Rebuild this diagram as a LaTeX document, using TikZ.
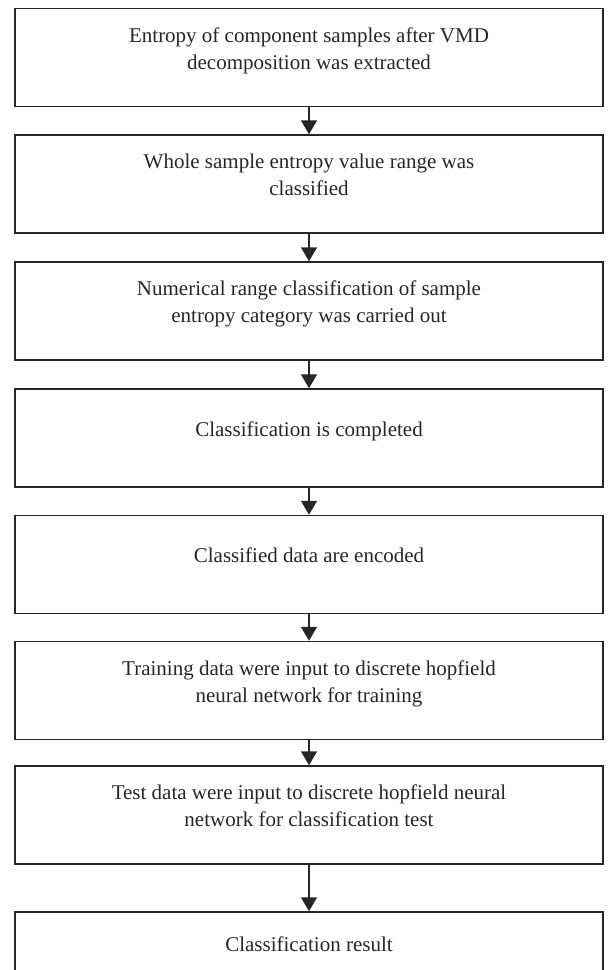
\documentclass[tikz,border=0pt]{standalone}
\usepackage{fontspec}
\setmainfont{Liberation Serif}
\usetikzlibrary{arrows.meta}
% text sits a little above the middle of each box
\newcommand{\shang}[1]{\raisebox{3.5pt}[\height][\depth]{\begin{tabular}{@{}c@{}}#1\end{tabular}}}

\begin{document}
\begin{tikzpicture}[x=0.5pt,y=-0.5pt]
\tikzset{kuang/.style={draw=black!85, line width=0.75pt, minimum width=294pt, minimum height=49pt,
  inner sep=0pt, text=black!85,
  font=\fontsize{10.5}{13.5}\selectfont}}
\tikzset{jian/.style={draw=black!85, line width=0.75pt, -{Triangle[width=8pt,length=7pt]}}}

\useasboundingbox (0,0) rectangle (611,970);

\node[kuang](1)at(309,57.5){\shang{Entropy of component samples after VMD\\decomposition was extracted}};
\node[kuang](2)at(309,184){\shang{Whole sample entropy value range was\\classified}};
\node[kuang](3)at(309,311){\shang{Numerical range classification of sample\\entropy category was carried out}};
\node[kuang](4)at(309,438){\shang{Classification is completed}};
\node[kuang](5)at(309,564.5){\shang{Classified data are encoded}};
\node[kuang](6)at(309,690.5){\shang{Training data were input to discrete hopfield\\neural network for training}};
\node[kuang](7)at(309,815){\shang{Test data were input to discrete hopfield neural\\network for classification test}};
\node[kuang, minimum height=32pt](8)at(309,944){Classification result};

\path[jian] (1) -- (2);
\path[jian] (2) -- (3);
\path[jian] (3) -- (4);
\path[jian] (4) -- (5);
\path[jian] (5) -- (6);
\path[jian] (6) -- (7);
\path[jian] (7) -- (8);
\end{tikzpicture}
\end{document}
